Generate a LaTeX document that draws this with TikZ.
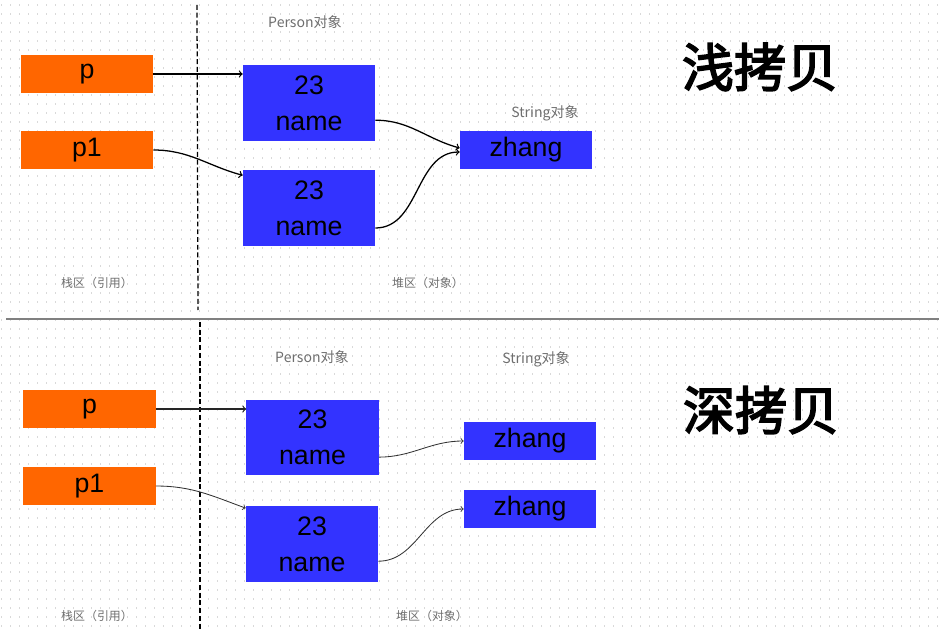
\documentclass[tikz,border=0pt]{standalone}
\usepackage{fontspec}
\setmainfont{Liberation Sans}
\newfontfamily\cjk{Noto Sans CJK SC}
\newfontfamily\cjktitle[FakeBold=3]{Noto Sans CJK SC}
\usepackage{tikz}
\usetikzlibrary{arrows,positioning}
\definecolor{refzone}{RGB}{255,102,0}
\definecolor{heapzone}{RGB}{51,51,255}
\definecolor{labelgray}{RGB}{110,110,110}

\tikzset{
    refbox/.style={fill=refzone, minimum width=3.3cm, minimum height=0.93cm, inner sep=0pt,
        font=\fontsize{19pt}{25pt}\selectfont},
    objbox/.style={fill=heapzone, minimum width=3.3cm, minimum height=1.88cm, inner sep=0pt,
        align=center, font=\fontsize{19pt}{25.5pt}\selectfont},
    strbox/.style={fill=heapzone, minimum width=3.3cm, minimum height=0.93cm, inner sep=0pt,
        font=\fontsize{19pt}{25pt}\selectfont},
    tag/.style={text=labelgray, font=\cjk\fontsize{10pt}{12pt}\selectfont},
    zone/.style={text=labelgray, font=\cjk\fontsize{8.5pt}{10pt}\selectfont},
    title/.style={font=\cjktitle\fontsize{37pt}{40pt}\selectfont},
    link/.style={->, line width=0.9pt},
    thinlink/.style={->, line width=0.6pt, black!80},
    divider/.style={line width=0.9pt, dash pattern=on 3.5pt off 2pt},
}

\begin{document}
\begin{tikzpicture}[x=0.025cm, y=-0.025cm]
    \useasboundingbox (0,0) rectangle (939,629);

    % Dotted background
    \foreach \y in {5,14,...,626} {
        \draw[gray!30, line width=0.03cm, dash pattern=on 0.03cm off 0.195cm] (1,\y) -- (939,\y);
    }

    % Separator and stack/heap dividers
    \draw[gray, line width=1.1pt] (6,319) -- (939,319);
    \draw[divider] (197,5) -- (198,310);
    \draw[divider] (200,322) -- (200,629);

    % Shallow copy
    \node[refbox] (p) at (87,74) {p};
    \node[refbox] (p1) at (87,150) {p1};
    \node[objbox] (per) at (309,103) {23\\name};
    \node[objbox] (per1) at (309,208) {23\\name};
    \node[strbox] (str) at (526,150) {zhang};

    \node[tag] (pertag) at (305,22) {Person对象};
    \node[tag] (strtag) at (545,113) {String对象};
    \node[zone] (stack) at (97,283) {栈区（引用）};
    \node[zone] (heap) at (428,283) {堆区（对象）};
    \node[title] (shallow) at (760,67) {浅拷贝};

    \draw[link] (p.east) -- (p.east -| per.west);
    \draw[link] (p1.east) to[out=0, in=165] ([yshift=-0.13cm]per1.north west);
    \draw[link] ([yshift=-0.43cm]per.east) to[out=0, in=165] ([yshift=0.05cm]str.west);
    \draw[link] ([yshift=-0.5cm]per1.east) to[out=0, in=180] ([yshift=-0.05cm]str.west);

    % Deep copy
    \node[refbox] (q) at (89.5,409) {p};
    \node[refbox] (q1) at (89.5,486) {p1};
    \node[objbox] (dper) at (312.5,437.5) {23\\name};
    \node[objbox] (dper1) at (312,544) {23\\name};
    \node[strbox] (dstr) at (530,441) {zhang};
    \node[strbox] (dstr1) at (530,509) {zhang};

    \node[tag] (dpertag) at (312,357) {Person对象};
    \node[tag] (dstrtag) at (536,359) {String对象};
    \node[zone] (dstack) at (97,616) {栈区（引用）};
    \node[zone] (dheap) at (432,616) {堆区（对象）};
    \node[title] (deep) at (761,410) {深拷贝};

    \draw[link, black!85] (q.east) -- (q.east -| dper.west);
    \draw[thinlink] (q1.east) to[out=0, in=160] ([yshift=-0.05cm]dper1.north west);
    \draw[thinlink] ([yshift=-0.49cm]dper.east) to[out=0, in=180] (dstr.west);
    \draw[thinlink] ([yshift=-0.43cm]dper1.east) to[out=0, in=180] (dstr1.west);
\end{tikzpicture}
\end{document}
